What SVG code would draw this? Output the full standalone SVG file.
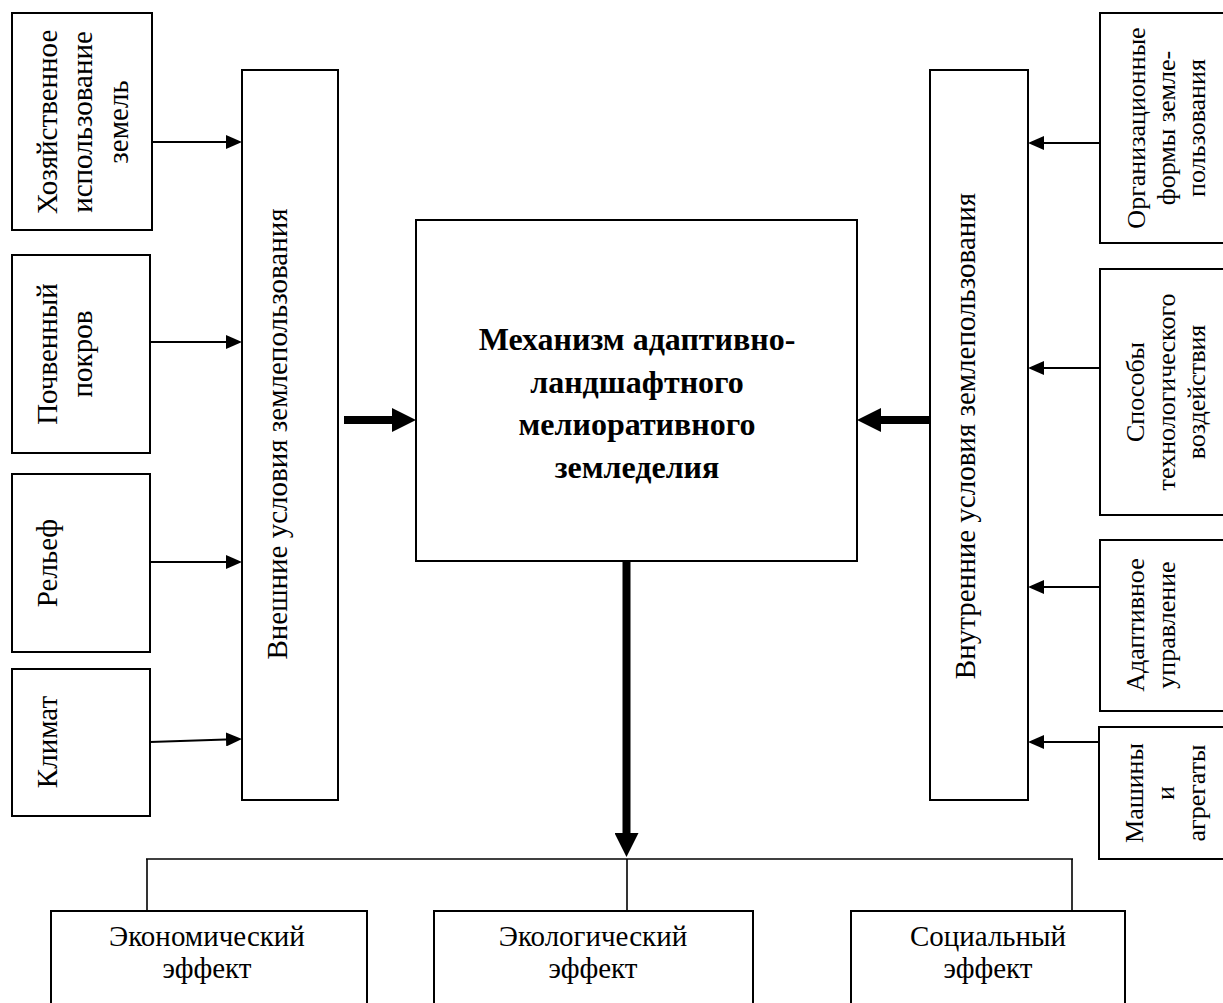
<svg xmlns="http://www.w3.org/2000/svg" width="1223" height="1003" viewBox="0 0 1223 1003">
<defs>
<style>
.box{fill:#fff;stroke:#000;stroke-width:2}
.t{font-family:"Liberation Serif","Times New Roman",serif;font-size:29px;fill:#000;text-anchor:middle}
.tr{font-family:"Liberation Serif","Times New Roman",serif;font-size:26px;fill:#000;text-anchor:middle}
.tb{font-family:"Liberation Serif","Times New Roman",serif;font-size:32px;font-weight:bold;fill:#000;text-anchor:middle}
.thin{stroke:#000;stroke-width:2;fill:none}
.thick{stroke:#000;stroke-width:8;fill:none}
.ln{stroke:#000;stroke-width:1.6;fill:none}
</style>
<marker id="ah" markerUnits="userSpaceOnUse" markerWidth="16" markerHeight="14" refX="0" refY="7" orient="auto">
<path d="M0,0 L16,7 L0,14 Z" fill="#000"/>
</marker>
<marker id="ahb" markerUnits="userSpaceOnUse" markerWidth="24" markerHeight="24" refX="0" refY="12" orient="auto">
<path d="M0,0 L24,12 L0,24 Z" fill="#000"/>
</marker>
</defs>
<rect width="1223" height="1003" fill="#fff"/>

<g id="node-hoz">
<rect class="box" x="12" y="13" width="140" height="217"/>
<text class="t" transform="translate(57,122) rotate(-90)">Хозяйственное</text>
<text class="t" transform="translate(92,122) rotate(-90)">использование</text>
<text class="t" transform="translate(128,122) rotate(-90)">земель</text>
</g>
<g id="node-soil">
<rect class="box" x="12" y="255" width="138" height="198"/>
<text class="t" transform="translate(57,354) rotate(-90)">Почвенный</text>
<text class="t" transform="translate(92,354) rotate(-90)">покров</text>
</g>
<g id="node-relief">
<rect class="box" x="12" y="474" width="138" height="178"/>
<text class="t" transform="translate(57,563) rotate(-90)">Рельеф</text>
</g>
<g id="node-climate">
<rect class="box" x="12" y="669" width="138" height="147"/>
<text class="t" transform="translate(57,742) rotate(-90)">Климат</text>
</g>
<g id="node-external">
<rect class="box" x="242" y="70" width="96" height="730"/>
<text class="t" transform="translate(287,434) rotate(-90)">Внешние условия землепользования</text>
</g>

<g id="node-mechanism">
<rect class="box" x="416" y="220" width="441" height="341"/>
<text class="tb" x="637" y="350">Механизм адаптивно-</text>
<text class="tb" x="637" y="393">ландшафтного</text>
<text class="tb" x="637" y="435">мелиоративного</text>
<text class="tb" x="637" y="478">земледелия</text>
</g>

<g id="node-internal">
<rect class="box" x="930" y="70" width="98" height="730"/>
<text class="t" transform="translate(975,436) rotate(-90)">Внутренние условия землепользования</text>
</g>
<g id="node-org">
<rect class="box" x="1100" y="13" width="130" height="230"/>
<text class="tr" transform="translate(1145,128) rotate(-90)">Организационные</text>
<text class="tr" transform="translate(1175,128) rotate(-90)">формы земле-</text>
<text class="tr" transform="translate(1205,128) rotate(-90)">пользования</text>
</g>
<g id="node-methods">
<rect class="box" x="1100" y="269" width="130" height="246"/>
<text class="tr" transform="translate(1144,392) rotate(-90)">Способы</text>
<text class="tr" transform="translate(1175,392) rotate(-90)">технологического</text>
<text class="tr" transform="translate(1205,392) rotate(-90)">воздействия</text>
</g>
<g id="node-adaptive">
<rect class="box" x="1100" y="540" width="130" height="171"/>
<text class="tr" transform="translate(1144,625) rotate(-90)">Адаптивное</text>
<text class="tr" transform="translate(1175,625) rotate(-90)">управление</text>
</g>
<g id="node-machines">
<rect class="box" x="1099" y="727" width="130" height="132"/>
<text class="tr" transform="translate(1143,793) rotate(-90)">Машины</text>
<text class="tr" transform="translate(1174,793) rotate(-90)">и</text>
<text class="tr" transform="translate(1205,793) rotate(-90)">агрегаты</text>
</g>

<g id="node-econ">
<rect class="box" x="51" y="911" width="316" height="110"/>
<text class="t" x="207" y="946">Экономический</text>
<text class="t" x="207" y="978">эффект</text>
</g>
<g id="node-ecol">
<rect class="box" x="434" y="911" width="319" height="110"/>
<text class="t" x="593" y="946">Экологический</text>
<text class="t" x="593" y="978">эффект</text>
</g>
<g id="node-social">
<rect class="box" x="851" y="911" width="274" height="110"/>
<text class="t" x="988" y="946">Социальный</text>
<text class="t" x="988" y="978">эффект</text>
</g>

<g id="connectors">
<line class="thin" x1="152" y1="142" x2="226" y2="142" marker-end="url(#ah)"/>
<line class="thin" x1="150" y1="342" x2="226" y2="342" marker-end="url(#ah)"/>
<line class="thin" x1="150" y1="562" x2="226" y2="562" marker-end="url(#ah)"/>
<line class="thin" x1="150" y1="742" x2="226" y2="739.5" marker-end="url(#ah)"/>
<line class="thin" x1="1100" y1="143" x2="1044" y2="143" marker-end="url(#ah)"/>
<line class="thin" x1="1100" y1="368" x2="1044" y2="368" marker-end="url(#ah)"/>
<line class="thin" x1="1100" y1="587" x2="1044" y2="587" marker-end="url(#ah)"/>
<line class="thin" x1="1099" y1="742" x2="1044" y2="742" marker-end="url(#ah)"/>
<line class="thick" x1="344" y1="420" x2="392" y2="420" marker-end="url(#ahb)"/>
<line class="thick" x1="930" y1="420" x2="881" y2="420" marker-end="url(#ahb)"/>
<line class="thick" x1="626.5" y1="561" x2="626.5" y2="833" marker-end="url(#ahb)"/>
<line class="ln" x1="146" y1="859" x2="1073" y2="859"/>
<line class="ln" x1="147" y1="859" x2="147" y2="911"/>
<line class="ln" x1="627" y1="859" x2="627" y2="911"/>
<line class="ln" x1="1072" y1="859" x2="1072" y2="911"/>
</g>
</svg>
